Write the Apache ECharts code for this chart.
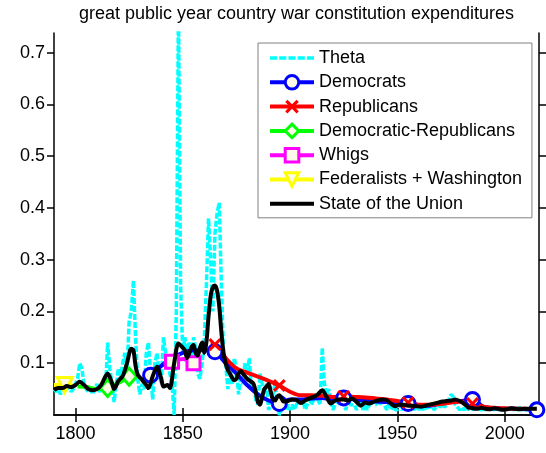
<!DOCTYPE html>
<html>
<head>
<meta charset="utf-8">
<script src="https://cdn.jsdelivr.net/npm/echarts@6/dist/echarts.min.js"></script>
<style>
  html, body { margin: 0; padding: 0; background: #fff; }
  #chart { width: 546px; height: 453px; }
</style>
</head>
<body>
<div id="chart"></div>
<script>
// ---- data ----
const titleText = 'great public year country war constitution expenditures';
const xTicks = [1800, 1850, 1900, 1950, 2000];
const yTicks = [0.1, 0.2, 0.3, 0.4, 0.5, 0.6, 0.7];

// Theta, one value a year from 1790
const thetaStart = 1790;
const thetaVals = [
  0.05, 0.045, 0.05, 0.04, 0.05, 0.045, 0.05, 0.055, 0.045, 0.05,
  0.06, 0.07, 0.1, 0.09, 0.06, 0.05, 0.045, 0.05, 0.04, 0.05,
  0.06, 0.045, 0.05, 0.07, 0.05, 0.14, 0.09, 0.06, 0.025, 0.06,
  0.09, 0.07, 0.1, 0.12, 0.08, 0.18, 0.2, 0.26, 0.15, 0.07,
  0.04, 0.06, 0.05, 0.12, 0.14, 0.08, 0.03, 0.1, 0.12, 0.08,
  0.06, 0.15, 0.12, 0.1, 0.08, 0.06, 0.0, 0.2, 0.8, 0.25,
  0.12, 0.15, 0.12, 0.14, 0.1, 0.15, 0.13, 0.08, 0.07, 0.1,
  0.14, 0.25, 0.38, 0.3, 0.2, 0.35, 0.39, 0.41, 0.25, 0.12,
  0.1, 0.05, 0.08, 0.06, 0.11, 0.09, 0.04, 0.07, 0.06, 0.1,
  0.08, 0.11, 0.05, 0.06, 0.03, 0.02, 0.08, 0.06, 0.04, 0.06,
  0.01, 0.02, 0.04, 0.06, 0.03, 0.0, 0.01, 0.03, 0.01, 0.02,
  0.01, 0.02, 0.01, 0.02, 0.03, 0.02, 0.03, 0.01, 0.02, 0.03,
  0.02, 0.03, 0.04, 0.03, 0.02, 0.13, 0.06, 0.04, 0.05, 0.03,
  0.01, 0.02, 0.03, 0.02, 0.03, 0.02, 0.01, 0.03, 0.02, 0.02,
  0.02, 0.01, 0.02, 0.03, 0.01, 0.02, 0.01, 0.02, 0.03, 0.02,
  0.02, 0.03, 0.02, 0.03, 0.02, 0.01, 0.02, 0.01, 0.02, 0.01,
  0.01, 0.02, 0.01, 0.015, 0.01, 0.02, 0.01, 0.015, 0.01, 0.02,
  0.01, 0.015, 0.01, 0.02, 0.01, 0.015, 0.02, 0.01, 0.015, 0.02,
  0.015, 0.02, 0.015, 0.02, 0.03, 0.04, 0.035, 0.02, 0.015, 0.01,
  0.015, 0.01, 0.015, 0.01, 0.015, 0.01, 0.015, 0.01, 0.012, 0.01,
  0.012, 0.01, 0.015, 0.01, 0.012, 0.01, 0.015, 0.01, 0.012, 0.01,
  0.01, 0.012, 0.01, 0.015, 0.01, 0.012, 0.01, 0.015, 0.01, 0.012,
  0.01, 0.012, 0.01, 0.015, 0.01, 0.012
];

const demYears = [1835, 1840, 1845, 1850, 1855, 1860, 1865, 1870, 1875, 1880, 1885, 1890, 1895,
  1900, 1905, 1910, 1915, 1920, 1925, 1930, 1935, 1940, 1945, 1950, 1955, 1960, 1965, 1970,
  1975, 1980, 1985, 1990, 1995, 2000, 2005, 2010, 2015];
const demVals = [0.077, 0.095, 0.11, 0.12, 0.125, 0.125, 0.122, 0.1, 0.08, 0.058, 0.04, 0.028, 0.022,
  0.03, 0.03, 0.032, 0.033, 0.03, 0.033, 0.03, 0.028, 0.026, 0.025, 0.021, 0.022, 0.018, 0.018, 0.022,
  0.026, 0.027, 0.03, 0.016, 0.013, 0.012, 0.012, 0.011, 0.01];
const demMarks = [1835, 1865, 1895, 1925, 1955, 1985, 2015];

const repYears = [1863, 1865, 1870, 1875, 1880, 1885, 1890, 1895, 1900, 1905, 1910, 1915, 1920,
  1925, 1930, 1935, 1940, 1945, 1950, 1955, 1960, 1965, 1970, 1975, 1980, 1985, 1990, 1995,
  2000, 2005, 2010];
const repVals = [0.137, 0.136, 0.11, 0.09, 0.082, 0.074, 0.066, 0.057, 0.045, 0.038, 0.038, 0.037, 0.035,
  0.036, 0.035, 0.034, 0.032, 0.03, 0.027, 0.024, 0.02, 0.02, 0.021, 0.024, 0.026, 0.022, 0.016, 0.014,
  0.013, 0.012, 0.012];
const repMarks = [1865, 1895, 1925, 1955, 1985];

const drYears = [1801, 1805, 1810, 1815, 1820, 1825, 1829];
const drVals = [0.055, 0.054, 0.05, 0.052, 0.062, 0.074, 0.082];
const drMarks = [1815, 1825];

const whigYears = [1841, 1845, 1850, 1855];
const whigVals = [0.1, 0.103, 0.108, 0.1];
const whigMarks = [1845, 1855];

const fedYears = [1790, 1795, 1800];
const fedVals = [0.058, 0.058, 0.056];
const fedMarks = [1795];

const sotuYears = [1790, 1792, 1794, 1796, 1798, 1800, 1802, 1804, 1806, 1808, 1810, 1812, 1814, 1815,
  1817, 1818, 1820, 1822, 1824, 1826, 1827, 1828, 1829, 1831, 1833, 1834, 1836, 1838, 1840, 1841,
  1843, 1844, 1846, 1848, 1850, 1851, 1852, 1854, 1855, 1856, 1857, 1858, 1859, 1860, 1861, 1862,
  1863, 1864, 1865, 1866, 1867, 1868, 1869, 1870, 1871, 1872, 1874, 1875, 1876, 1877, 1878, 1880,
  1882, 1883, 1884, 1885, 1886, 1887, 1888, 1889, 1890, 1891, 1892, 1893, 1894, 1895, 1896, 1897,
  1899, 1901, 1903, 1905, 1907, 1909, 1911, 1913, 1915, 1917, 1919, 1921, 1923, 1925, 1927, 1929,
  1931, 1933, 1935, 1937, 1939, 1941, 1943, 1945, 1947, 1949, 1951, 1953, 1955, 1957, 1959, 1961,
  1963, 1965, 1967, 1969, 1971, 1973, 1975, 1977, 1979, 1981, 1983, 1985, 1987, 1989, 1991, 1993,
  1995, 1997, 1999, 2001, 2003, 2005, 2007, 2009, 2011, 2013, 2015];
const sotuVals = [0.048, 0.052, 0.052, 0.056, 0.054, 0.058, 0.064, 0.058, 0.05, 0.048, 0.05, 0.058, 0.075, 0.08,
  0.062, 0.05, 0.066, 0.075, 0.1, 0.128, 0.125, 0.095, 0.078, 0.068, 0.058, 0.052, 0.075, 0.093, 0.07, 0.055,
  0.058, 0.052, 0.1, 0.138, 0.13, 0.125, 0.11, 0.13, 0.135, 0.12, 0.115, 0.13, 0.14, 0.12, 0.14, 0.19,
  0.23, 0.247, 0.25, 0.24, 0.21, 0.16, 0.12, 0.1, 0.087, 0.08, 0.067, 0.07, 0.08, 0.085, 0.08, 0.07,
  0.064, 0.06, 0.045, 0.025, 0.02, 0.035, 0.05, 0.055, 0.06, 0.045, 0.03, 0.028, 0.035, 0.038, 0.032, 0.026,
  0.027, 0.03, 0.029, 0.023, 0.028, 0.032, 0.035, 0.04, 0.048, 0.035, 0.022, 0.028, 0.03, 0.03, 0.028, 0.032,
  0.025, 0.018, 0.024, 0.022, 0.026, 0.028, 0.03, 0.029, 0.022, 0.017, 0.02, 0.02, 0.018, 0.018, 0.017, 0.016,
  0.018, 0.02, 0.022, 0.024, 0.026, 0.027, 0.028, 0.03, 0.027, 0.022, 0.015, 0.013, 0.012, 0.014, 0.012, 0.011,
  0.013, 0.012, 0.01, 0.011, 0.013, 0.012, 0.011, 0.012, 0.012, 0.012, 0.012];

// ---- styles ----
const FONT = 'Liberation Sans, Arial, sans-serif';
const markFill = '#fdfae6';

function pairs(years, vals) {
  return years.map((y, i) => [y, vals[i]]);
}
function marked(years, vals, marks) {
  return years.map((y, i) => marks.indexOf(y) >= 0
    ? { value: [y, vals[i]] }
    : { value: [y, vals[i]], symbol: 'none' });
}
const thetaYears = thetaVals.map((v, i) => thetaStart + i);

const xCross = 'path://M0,2L2,0L6,4L10,0L12,2L8,6L12,10L10,12L6,8L2,12L0,10L4,6Z';
const axisCol = { color: '#000', width: 1.5 };

const chart = echarts.init(document.getElementById('chart'));
chart.setOption({
  animation: false,
  grid: { left: 54, right: 7, top: 33, bottom: 38 },
  xAxis: [{
    type: 'value', min: 1790, max: 2016,
    axisLine: { lineStyle: axisCol },
    axisTick: { length: 7, lineStyle: axisCol, customValues: xTicks },
    axisLabel: { color: '#000', fontSize: 18, fontFamily: FONT, margin: 10, customValues: xTicks,
      formatter: v => String(v) },
    splitLine: { show: false }
  }, {
    type: 'value', min: 1790, max: 2016, position: 'top',
    name: titleText, nameLocation: 'middle', nameGap: 10,
    nameTextStyle: { color: '#000', fontSize: 18, fontFamily: FONT },
    axisLine: { lineStyle: axisCol },
    axisTick: { length: 7, lineStyle: axisCol, customValues: xTicks },
    axisLabel: { show: false },
    splitLine: { show: false }
  }],
  yAxis: [{
    type: 'value', min: 0, max: 0.738,
    axisLine: { show: true, lineStyle: axisCol },
    axisTick: { show: true, length: 7, lineStyle: axisCol, customValues: yTicks },
    axisLabel: { color: '#000', fontSize: 18, fontFamily: FONT, margin: 9, customValues: yTicks,
      formatter: v => v.toFixed(1) },
    splitLine: { show: false }
  }, {
    type: 'value', min: 0, max: 0.738, position: 'right',
    axisLine: { show: true, lineStyle: axisCol },
    axisTick: { show: true, length: 7, lineStyle: axisCol, customValues: yTicks },
    axisLabel: { show: false },
    splitLine: { show: false }
  }],
  legend: {
    orient: 'vertical', left: 258, top: 43,
    padding: [6, 10, 5, 10], itemGap: 6.3, itemWidth: 44, itemHeight: 17,
    backgroundColor: '#fff', borderColor: '#808080', borderWidth: 1,
    textStyle: { color: '#000', fontSize: 18, fontFamily: FONT },
    data: [
      { name: 'Theta', icon: 'path://M0,0h7v3.5h-7zM9,0h7v3.5h-7zM18,0h7v3.5h-7zM27,0h7v3.5h-7zM36,0h7v3.5h-7z',
        itemStyle: { borderWidth: 0 } },
      { name: 'Democrats', itemStyle: { borderWidth: 3 }, lineStyle: { width: 4 } },
      { name: 'Republicans', itemStyle: { borderWidth: 0 }, lineStyle: { width: 4 } },
      { name: 'Democratic-Republicans', itemStyle: { borderWidth: 3 }, lineStyle: { width: 4 } },
      { name: 'Whigs', itemStyle: { borderWidth: 3 }, lineStyle: { width: 4 } },
      { name: 'Federalists + Washington', itemStyle: { borderWidth: 3 }, lineStyle: { width: 4 } },
      { name: 'State of the Union', icon: 'path://M0,0h44v4h-44z', itemStyle: { borderWidth: 0 } }
    ]
  },
  series: [{
    name: 'Theta', type: 'line', symbol: 'none', z: 1,
    data: pairs(thetaYears, thetaVals),
    itemStyle: { color: '#00ffff', borderWidth: 0 },
    lineStyle: { color: '#00ffff', width: 3.5, type: [6, 2] }
  }, {
    name: 'Democrats', type: 'line', symbol: 'circle', symbolSize: 14, smooth: 0.3, z: 2,
    data: marked(demYears, demVals, demMarks),
    itemStyle: { color: markFill, borderColor: '#0000ff', borderWidth: 3 },
    lineStyle: { color: '#0000ff', width: 4 }
  }, {
    name: 'Republicans', type: 'line', symbol: xCross, symbolSize: 13, smooth: 0.3, z: 2,
    data: marked(repYears, repVals, repMarks),
    itemStyle: { color: '#ff0000', borderWidth: 0 },
    lineStyle: { color: '#ff0000', width: 4 }
  }, {
    name: 'Democratic-Republicans', type: 'line', symbol: 'diamond', symbolSize: [15, 17], smooth: 0.3, z: 2,
    data: marked(drYears, drVals, drMarks),
    itemStyle: { color: markFill, borderColor: '#00ff00', borderWidth: 3 },
    lineStyle: { color: '#00ff00', width: 4 }
  }, {
    name: 'Whigs', type: 'line', symbol: 'rect', symbolSize: 13, smooth: 0.3, z: 2,
    data: marked(whigYears, whigVals, whigMarks),
    itemStyle: { color: markFill, borderColor: '#ff00ff', borderWidth: 3 },
    lineStyle: { color: '#ff00ff', width: 4 }
  }, {
    name: 'Federalists + Washington', type: 'line', symbol: 'triangle', symbolRotate: 180, symbolSize: 15,
    smooth: 0.3, z: 2,
    data: marked(fedYears, fedVals, fedMarks),
    itemStyle: { color: markFill, borderColor: '#ffff00', borderWidth: 3 },
    lineStyle: { color: '#ffff00', width: 4 }
  }, {
    name: 'State of the Union', type: 'line', symbol: 'none', smooth: 0.3, z: 3,
    data: pairs(sotuYears, sotuVals),
    itemStyle: { color: '#000', borderWidth: 0 },
    lineStyle: { color: '#000', width: 4 }
  }]
});
</script>
</body>
</html>
